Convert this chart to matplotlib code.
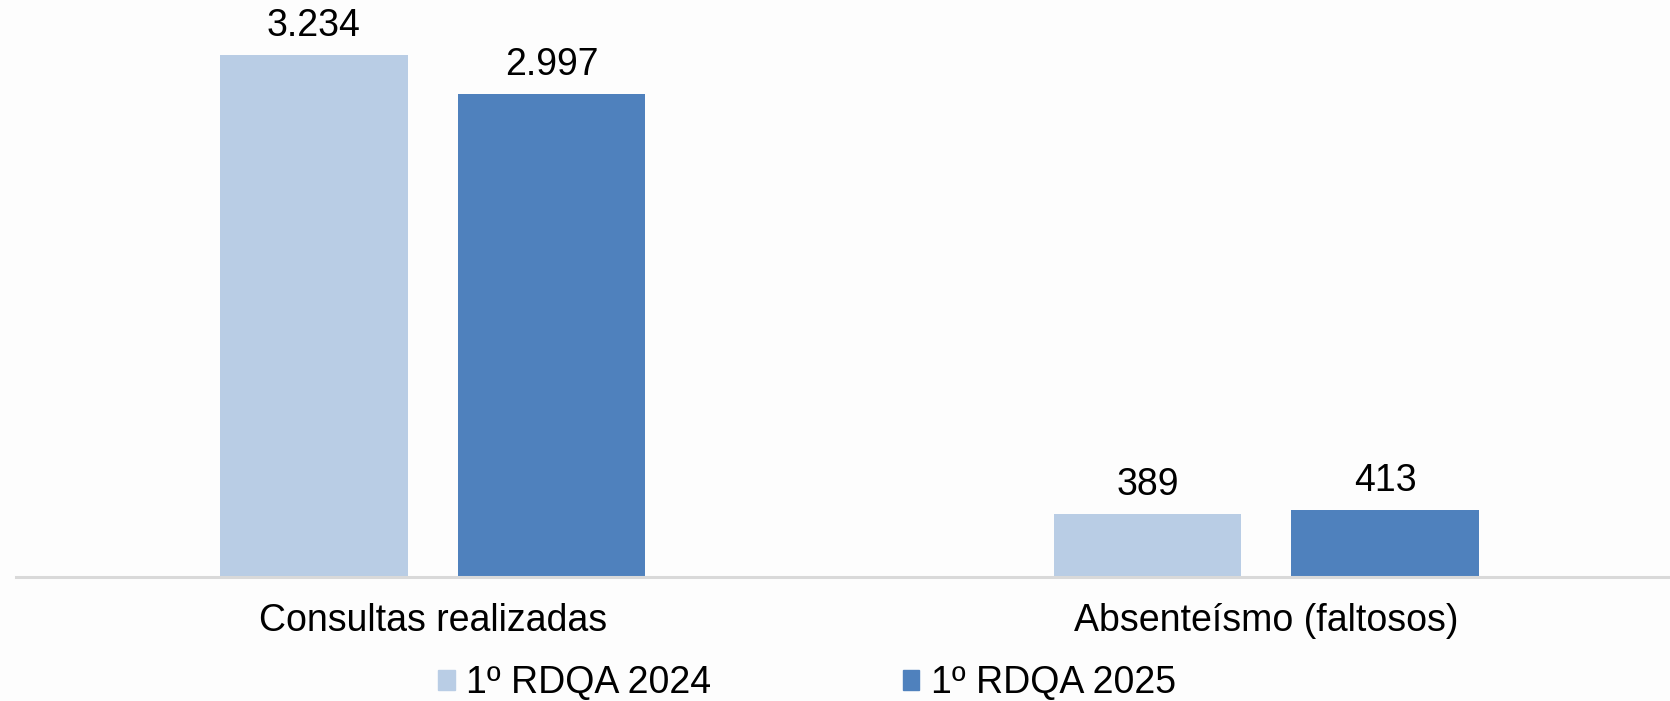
import matplotlib
matplotlib.use("Agg")
import matplotlib.pyplot as plt
import numpy as np
from matplotlib.patches import Patch

categories = ["Consultas realizadas", "Absenteísmo (faltosos)"]
series_names = ["1º RDQA 2024", "1º RDQA 2025"]
values_2024 = [3234, 389]
values_2025 = [2997, 413]
value_labels_2024 = ["3.234", "389"]
value_labels_2025 = ["2.997", "413"]

colors = ["#B9CDE5", "#4F81BD"]

plt.rcParams['font.family'] = ['Liberation Sans', 'DejaVu Sans']

W, H = 1670, 701
FS = 27
fig = plt.figure(figsize=(W/100, H/100), dpi=100)
fig.patch.set_facecolor("#FDFDFD")
base_px = 577
ax_left = 16 / W
ax_bottom = (H - base_px) / H
ax_w = 2 * 833.5 / W
ax = fig.add_axes([ax_left, ax_bottom, ax_w, 1 - ax_bottom])
ax.set_facecolor("none")

x = np.arange(len(categories))
bw = 0.225
off = 0.1425
b1 = ax.bar(x - off, values_2024, bw, color=colors[0])
b2 = ax.bar(x + off, values_2025, bw, color=colors[1])

for bars, labs in [(b1, value_labels_2024), (b2, value_labels_2025)]:
    for r, lab in zip(bars, labs):
        ax.annotate(lab, (r.get_x() + r.get_width()/2, r.get_height()),
                    xytext=(0, 11), textcoords="offset pixels",
                    ha="center", va="bottom", fontsize=FS, color="black")

ax.set_xlim(-0.5, 1.5)
ax.set_ylim(0, 577 / 0.1613)
for s in ["top", "right", "left"]:
    ax.spines[s].set_visible(False)
ax.spines["bottom"].set_color("#D9D9D9")
ax.spines["bottom"].set_linewidth(2.2)
ax.set_yticks([])
ax.set_xticks(x)
ax.set_xticklabels(categories, fontsize=FS)
ax.tick_params(axis="x", length=0, pad=19)

handles = [Patch(color=colors[0]), Patch(color=colors[1])]
fig.legend(handles, series_names, loc="center left", bbox_to_anchor=(438/W, 1 - 683/H),
           ncol=2, frameon=False, fontsize=FS, handlelength=0.45, handleheight=0.45,
           handletextpad=0.3, columnspacing=5.1, borderaxespad=0, borderpad=0)

fig.savefig("out.png", dpi=100, facecolor=fig.get_facecolor())
